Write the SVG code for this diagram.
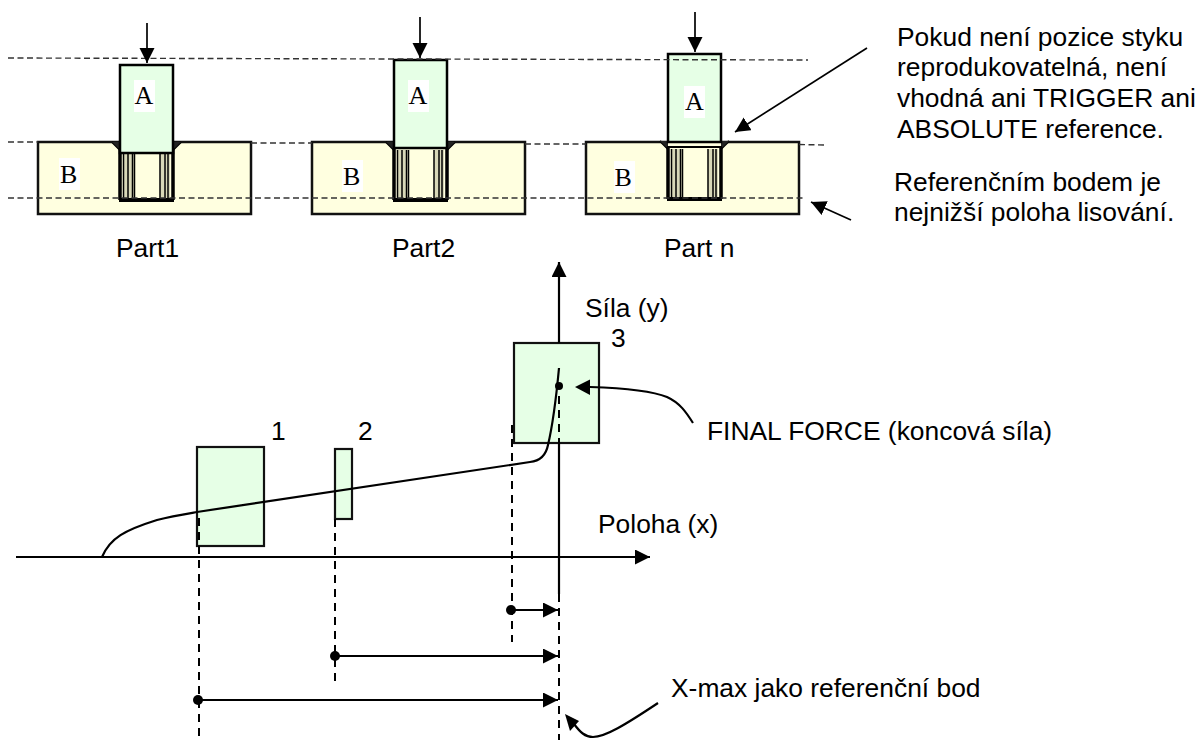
<svg xmlns="http://www.w3.org/2000/svg" width="1204" height="744" viewBox="0 0 1204 744">
<style>
.t{font-family:"Liberation Sans",Arial,sans-serif;font-size:26.4px;fill:#000}
.s{font-family:"Liberation Serif","Times New Roman",serif;font-size:26px;fill:#000}
.l{fill:none;stroke:#000;stroke-width:2.2}
.lt{fill:none;stroke:#000;stroke-width:1.7}
.d{fill:none;stroke:#333;stroke-width:1.4;stroke-dasharray:6 3.5}
.dv{fill:none;stroke:#000;stroke-width:2;stroke-dasharray:8 6}
.g{fill:#e6ffe6;stroke:#000;stroke-width:2.5}
.gb{fill:#e6ffe6;stroke:#111;stroke-width:2.2}
.y{fill:#ffffe0;stroke:#111;stroke-width:2.5}
.h{fill:#ffffe0;stroke:#000;stroke-width:2}
.w{fill:#fff}
.k{fill:#000}
</style>
<defs>
<marker id="ah" markerUnits="userSpaceOnUse" markerWidth="16" markerHeight="16" refX="15" refY="7.5" orient="auto"><path d="M0 0L15 7.5L0 15Z" fill="#000"/></marker>
<g id="hole">
<path d="M-8 0L0 8H53L61 0" fill="#ffffe0" stroke="#000" stroke-width="2"/>
<path d="M-8 0H0V8Z M61 0H53V8Z" fill="#222"/>
<rect x="0" y="6" width="53" height="52" class="h"/>
<rect x="3" y="8" width="10" height="49" fill="#d8d8b8"/>
<rect x="40" y="8" width="10" height="49" fill="#d8d8b8"/>
<path d="M3.5 8V57M8 8V57M12.500 8V57M14.500 8V57M40 8V57M45 8V57M48 8V57" stroke="#000" stroke-width="1.5" fill="none"/>
<path d="M-1 58H54" stroke="#000" stroke-width="4"/>
<path d="M0 6V58M53 6V58" stroke="#000" stroke-width="3.5"/>
<path d="M0 6H53" stroke="#000" stroke-width="2"/>
</g>
</defs>
<g id="part1">
<rect x="38" y="142" width="213" height="72" class="y"/>
<use href="#hole" x="120" y="142"/>
<rect x="120" y="65" width="53" height="88" class="g"/>
<rect x="134" y="80" width="21" height="32" class="w"/>
<text x="134.500" y="104" class="s">A</text>
<rect x="59" y="158" width="21" height="32" class="w"/>
<text x="60" y="183" class="s">B</text>
<text x="116" y="257" class="t">Part1</text>
</g>
<g id="part2">
<rect x="312" y="142" width="213" height="72" class="y"/>
<use href="#hole" x="394" y="142"/>
<rect x="394" y="60" width="53" height="88" class="g"/>
<rect x="408" y="80" width="21" height="32" class="w"/>
<text x="408.500" y="104" class="s">A</text>
<rect x="342" y="160" width="21" height="32" class="w"/>
<text x="343" y="185" class="s">B</text>
<text x="392" y="257" class="t">Part2</text>
</g>
<g id="partn">
<rect x="586" y="142" width="213" height="72" class="y"/>
<use href="#hole" x="668" y="141"/>
<rect x="668" y="54" width="53" height="88" class="g"/>
<rect x="684" y="86" width="21" height="32" class="w"/>
<text x="685" y="110" class="s">A</text>
<rect x="614" y="161" width="21" height="32" class="w"/>
<text x="614.500" y="186" class="s">B</text>
<text x="664" y="257" class="t">Part n</text>
</g>
<g id="box1"><rect x="197" y="447" width="67" height="99" class="gb"/><text x="271" y="440" class="t">1</text></g>
<g id="box2"><rect x="335" y="449" width="17" height="70" class="gb"/><text x="358" y="440" class="t">2</text></g>
<g id="box3"><rect x="514" y="343" width="85" height="100" class="gb"/><text x="611" y="347" class="t">3</text></g>
<g id="connectors">
<path class="d" d="M8 58L808 60"/>
<path class="d" d="M8 142H38M251 143H312M525 144H586M799 144.500L826 145"/>
<path class="d" d="M8 198H806"/>
<path class="lt" d="M147 23V63" marker-end="url(#ah)"/>
<path class="lt" d="M420 17V58" marker-end="url(#ah)"/>
<path class="lt" d="M695 12V52" marker-end="url(#ah)"/>
<path class="lt" d="M867 48L735 132" marker-end="url(#ah)"/>
<path class="lt" d="M851 220L811 202" marker-end="url(#ah)"/>
<path class="l" d="M16 557H650" marker-end="url(#ah)"/>
<path class="l" d="M559 343V262" marker-end="url(#ah)"/>
<path class="l" d="M102 557C110 538 125 530 157 520C172 516 185 514 197 512L530 462C540 461 546 455 548 445C552 428 556 400 559 368"/>
<path class="l" d="M590 387C620 388 650 390 667 397C680 403 686 412 693 423"/>
<path d="M575 387L590 379.500V395Z" class="k"/>
<path class="dv" d="M199 518V736"/>
<path class="dv" d="M335 519V682"/>
<path class="dv" d="M512 425V642"/>
<path class="dv" d="M559 396V443"/>
<path class="l" d="M559 443V594"/>
<path class="dv" d="M559 594V740"/>
<circle cx="559" cy="386" r="4" class="k"/>
<circle cx="511" cy="610" r="5" class="k"/>
<circle cx="335" cy="656" r="5" class="k"/>
<circle cx="198" cy="700" r="5" class="k"/>
<path class="l" d="M511 610H558" marker-end="url(#ah)"/>
<path class="l" d="M335 656H558" marker-end="url(#ah)"/>
<path class="l" d="M198 700H558" marker-end="url(#ah)"/>
<path class="l" d="M658 703C625 725 605 737 593 737C585 737 580 732 574 724"/>
<path d="M565 714L579 721L570 731Z" class="k"/>
</g>
<g id="labels">
<text x="897" y="46" class="t">Pokud není pozice styku</text>
<text x="897" y="76" class="t">reprodukovatelná, není</text>
<text x="897" y="107" class="t">vhodná ani TRIGGER ani</text>
<text x="897" y="138" class="t">ABSOLUTE reference.</text>
<text x="894" y="191" class="t">Referenčním bodem je</text>
<text x="894" y="221" class="t">nejnižší poloha lisování.</text>
<text x="585" y="317" class="t">Síla (y)</text>
<text x="707" y="440" class="t">FINAL FORCE (koncová síla)</text>
<text x="598" y="533" class="t">Poloha (x)</text>
<text x="671" y="697" class="t">X-max jako referenční bod</text>
</g>
</svg>
